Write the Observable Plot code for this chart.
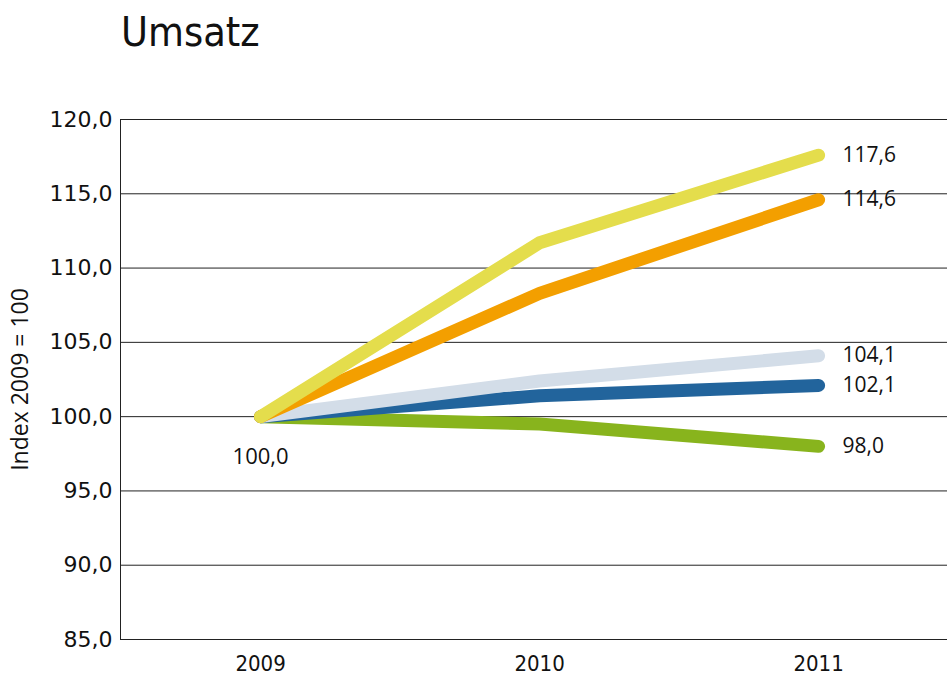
<!DOCTYPE html>
<html>
<head>
<meta charset="utf-8">
<script src="https://cdn.jsdelivr.net/npm/d3@7"></script>
<script src="https://cdn.jsdelivr.net/npm/@observablehq/plot@0.6"></script>
<style>
  body { margin: 0; background: #fff; width: 947px; height: 682px; overflow: hidden; }
  #title { height: 80px; box-sizing: border-box; padding: 7px 0 0 121px;
    font-family: "Liberation Sans Narrow", "DejaVu Sans Condensed", "Open Sans", sans-serif;
    font-size: 41px; font-weight: 300; color: #111; line-height: 50px; }
  svg text { fill: #111; }
</style>
</head>
<body>
<div id="title">Umsatz</div>
<div id="chart"></div>
<script>
const years = [2009, 2010, 2011];
const seriesNames = ["gelb", "orange", "hellblau", "blau", "grün"];
const seriesColors = ["#e4dd4c", "#f39f00", "#d3dde8", "#22649c", "#88b41d"];
const seriesValues = [
  [100, 111.7, 117.6],
  [100, 108.3, 114.6],
  [100, 102.4, 104.1],
  [100, 101.4, 102.1],
  [100, 99.5, 98.0]
];
const yTicks = [85, 90, 95, 100, 105, 110, 115, 120];
const startLabel = { year: 2009, value: 100.0 };
const yAxisTitle = "Index 2009 = 100";

const fmt = v => v.toFixed(1).replace(".", ",");

const rows = [];
seriesNames.forEach((s, i) => years.forEach((yr, j) =>
  rows.push({ series: s, order: i, year: yr, value: seriesValues[i][j], color: seriesColors[i] })));
const drawOrder = seriesNames.slice().reverse();
const endRows = rows.filter(d => d.year === 2011);

const plot = Plot.plot({
  width: 947,
  height: 602,
  marginTop: 39,
  marginBottom: 43,
  marginLeft: 120,
  marginRight: 0,
  x: { domain: [2008.498, 2011.462], ticks: years, tickFormat: d => String(d), label: null },
  y: { domain: [85, 120], ticks: yTicks, tickFormat: fmt, label: null },
  marks: [
    Plot.ruleY(yTicks, { stroke: "#222", strokeWidth: 1 }),
    Plot.frame({ anchor: "left", stroke: "#222", strokeWidth: 1 }),
    ...drawOrder.map(s => Plot.line(rows.filter(d => d.series === s), {
      x: "year", y: "value", stroke: seriesColors[seriesNames.indexOf(s)],
      strokeWidth: 13, strokeLinecap: "round", strokeLinejoin: "round"
    })),
    Plot.text(endRows, {
      x: "year", y: "value", text: d => fmt(d.value), textAnchor: "start", dx: 24,
      fontSize: 21, fontFamily: "Open Sans, sans-serif", fill: "#111"
    }),
    Plot.text([startLabel], {
      x: "year", y: "value", text: d => fmt(d.value), dx: 0, dy: 40,
      fontSize: 22, fontFamily: "Open Sans, sans-serif", fill: "#111"
    }),
    Plot.axisY({ ticks: yTicks, tickFormat: fmt, tickSize: 0, tickPadding: 8,
      fontSize: 22, fontFamily: "DejaVu Sans, sans-serif", label: null }),
    Plot.axisX({ ticks: years, tickFormat: d => String(d), tickSize: 0, tickPadding: 16,
      fontSize: 22, fontFamily: "Liberation Sans Narrow, DejaVu Sans Condensed, sans-serif", label: null }),
    Plot.text([yAxisTitle], {
      frameAnchor: "left", textAnchor: "middle", dx: -100, rotate: -90, text: d => d,
      fontSize: 23, fontFamily: "Open Sans, sans-serif", fill: "#111"
    })
  ]
});
plot.style.fontFamily = "Open Sans, sans-serif";
plot.style.overflow = "visible";
d3.select(plot).selectAll("text")
  .filter(function () { return this.textContent === yAxisTitle; })
  .style("font-size", "23px");
document.getElementById("chart").appendChild(plot);
</script>
</body>
</html>
